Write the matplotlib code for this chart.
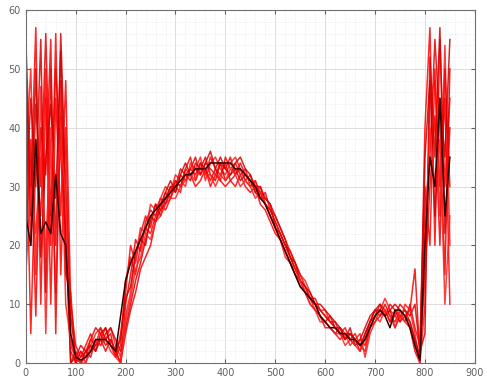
import matplotlib
matplotlib.use("Agg")
import matplotlib.pyplot as plt
from matplotlib.ticker import AutoMinorLocator, MultipleLocator

# x positions of the samples (every 10 units)
x_vals = list(range(0, 860, 10))

# individual traces (red)
trace_1 = [55, 30, 57, 10, 45, 20, 56, 15, 40, 2,
           0, 1, 3, 5, 2, 4, 6, 3, 1, 5,
           12, 20, 17, 22, 25, 23, 27, 26, 29, 28,
           31, 30, 33, 35, 31, 34, 32, 35, 33, 31,
           35, 33, 34, 32, 33, 30, 31, 28, 29, 26,
           24, 22, 20, 18, 16, 14, 13, 11, 10, 9,
           8, 7, 7, 5, 6, 4, 5, 3, 2, 6,
           8, 10, 9, 7, 8, 10, 9, 7, 4, 1,
           40, 57, 20, 55, 30, 45]
trace_2 = [48, 20, 44, 30, 56, 25, 50, 35, 22, 0,
           2, 0, 1, 4, 6, 5, 3, 4, 2, 0,
           10, 15, 21, 19, 24, 26, 25, 28, 27, 30,
           29, 32, 31, 33, 35, 32, 34, 33, 32, 34,
           33, 35, 32, 33, 31, 32, 29, 30, 27, 25,
           23, 21, 19, 17, 15, 13, 12, 10, 9, 8,
           7, 6, 5, 6, 4, 5, 4, 2, 5, 7,
           9, 8, 10, 8, 7, 9, 8, 6, 2, 0,
           25, 35, 55, 40, 15, 50]
trace_3 = [35, 50, 15, 47, 5, 38, 12, 42, 10, 4,
           0, 2, 0, 3, 5, 6, 4, 6, 3, 1,
           8, 12, 18, 23, 22, 27, 26, 28, 30, 29,
           32, 31, 30, 34, 33, 35, 31, 34, 35, 33,
           32, 34, 35, 33, 31, 30, 31, 29, 27, 26,
           25, 23, 21, 19, 17, 15, 14, 12, 10, 9,
           9, 7, 6, 5, 5, 3, 4, 5, 1, 5,
           7, 9, 11, 9, 8, 7, 10, 9, 5, 0,
           10, 45, 48, 25, 54, 20]
trace_4 = [28, 45, 30, 55, 12, 50, 20, 56, 30, 8,
           1, 3, 2, 1, 4, 3, 5, 6, 4, 2,
           6, 10, 14, 17, 21, 24, 27, 25, 28, 30,
           30, 33, 32, 31, 34, 33, 35, 32, 31, 34,
           31, 32, 33, 31, 32, 31, 29, 28, 28, 27,
           23, 22, 20, 18, 16, 14, 12, 11, 10, 8,
           7, 8, 6, 5, 4, 6, 3, 4, 6, 8,
           9, 10, 8, 9, 6, 8, 9, 8, 10, 2,
           5, 52, 35, 57, 22, 40]
trace_5 = [42, 5, 35, 25, 50, 10, 45, 25, 48, 10,
           3, 1, 2, 4, 3, 6, 4, 5, 1, 3,
           14, 18, 15, 20, 23, 22, 25, 27, 26, 28,
           30, 29, 33, 32, 30, 31, 33, 30, 32, 31,
           30, 31, 30, 32, 30, 29, 30, 27, 26, 24,
           22, 21, 19, 17, 15, 14, 12, 11, 9, 8,
           6, 6, 5, 4, 5, 4, 3, 4, 3, 6,
           7, 8, 9, 7, 9, 8, 7, 10, 6, 3,
           30, 20, 50, 30, 45, 10]
trace_6 = [20, 38, 8, 40, 32, 55, 5, 48, 15, 12,
           0, 2, 1, 2, 3, 4, 2, 4, 2, 0,
           5, 9, 12, 16, 18, 20, 24, 26, 27, 29,
           31, 30, 32, 33, 32, 34, 33, 31, 33, 32,
           34, 31, 32, 34, 32, 31, 30, 29, 27, 26,
           24, 22, 20, 19, 17, 15, 13, 11, 11, 9,
           8, 7, 6, 6, 5, 5, 4, 3, 4, 7,
           8, 9, 8, 10, 9, 7, 8, 9, 16, 1,
           15, 30, 42, 20, 50, 30]
trace_7 = [52, 25, 50, 18, 35, 44, 28, 53, 22, 0,
           1, 0, 2, 3, 2, 5, 6, 3, 2, 4,
           11, 13, 19, 21, 20, 25, 24, 27, 29, 31,
           29, 32, 34, 32, 33, 32, 34, 36, 33, 35,
           33, 32, 34, 35, 33, 32, 30, 30, 28, 27,
           25, 23, 21, 18, 17, 14, 13, 12, 10, 10,
           9, 8, 7, 6, 4, 5, 4, 3, 5, 7,
           9, 9, 8, 9, 10, 9, 8, 7, 4, 1,
           35, 48, 25, 45, 35, 55]
trace_8 = [15, 30, 22, 35, 18, 40, 30, 38, 28, 3,
           1, 0, 0, 2, 4, 3, 4, 2, 1, 0,
           7, 11, 16, 18, 22, 21, 24, 25, 27, 28,
           28, 30, 31, 32, 31, 33, 32, 32, 30, 32,
           31, 33, 32, 30, 31, 30, 28, 29, 27, 25,
           23, 21, 18, 17, 16, 14, 12, 10, 9, 7,
           7, 6, 5, 5, 3, 4, 3, 2, 4, 6,
           8, 7, 9, 8, 6, 9, 7, 6, 3, 0,
           20, 40, 30, 38, 10, 25]

# average trace (black)
mean_trace = [25, 20, 38, 22, 24, 22, 32, 22, 20, 5,
              1, 0.5, 1, 2, 4, 4, 4, 3, 2, 8,
              14, 17, 19, 21, 23, 25, 26, 27, 28, 29,
              30, 31, 32, 32, 33, 33, 33, 34, 34, 34,
              34, 34, 33, 33, 32, 31, 30, 28, 27, 25,
              23, 21, 19, 17, 15, 13, 12, 11, 10, 8,
              7, 6, 6, 5, 5, 4, 4, 3, 4, 6,
              8, 9, 8, 6, 9, 9, 8, 6, 3, 0.5,
              20, 35, 30, 45, 25, 35]

red_traces = [trace_1, trace_2, trace_3, trace_4,
              trace_5, trace_6, trace_7, trace_8]
red_shades = ["#ff0000", "#e60000", "#ff1a1a", "#d40000",
              "#ff0000", "#f00000", "#cc0000", "#ff2020"]


def main():
    fig = plt.figure(figsize=(4.87, 3.85), dpi=100)
    ax = fig.add_axes([0.053, 0.057, 0.922, 0.917])

    for tr, col in zip(red_traces, red_shades):
        ax.plot(x_vals, tr, color=col, lw=1.1, alpha=0.85)
    ax.plot(x_vals, mean_trace, color="#300000", lw=1.1)

    ax.set_xlim(0, 900)
    ax.set_ylim(0, 60)
    ax.xaxis.set_major_locator(MultipleLocator(100))
    ax.yaxis.set_major_locator(MultipleLocator(10))
    ax.xaxis.set_minor_locator(AutoMinorLocator(5))
    ax.yaxis.set_minor_locator(AutoMinorLocator(5))

    ax.grid(which="major", color="#d8d8d8", lw=0.6)
    ax.grid(which="minor", color="#e4e4e4", lw=0.5, ls=":")
    ax.set_axisbelow(True)

    ax.tick_params(which="both", direction="in", top=True, right=True,
                   labelsize=7, colors="#606060", length=3)
    ax.tick_params(which="minor", length=0)
    for sp in ax.spines.values():
        sp.set_color("#707070")
        sp.set_linewidth(0.8)

    fig.savefig("out.png", dpi=100)


if __name__ == "__main__":
    main()
